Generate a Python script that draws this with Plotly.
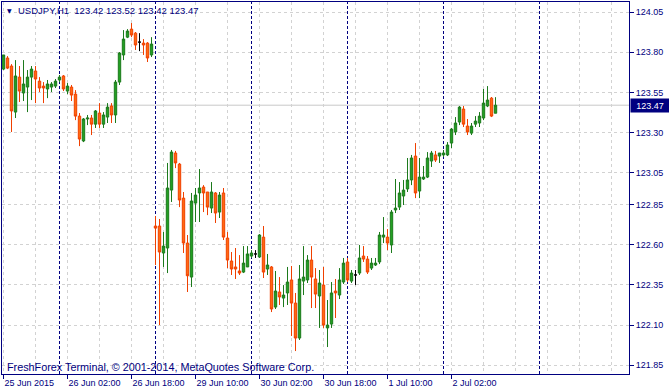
import plotly.graph_objects as go
import pandas as pd

symbol = "USDJPY,H1"

open_ = [123.695, 123.764, 123.714, 123.427, 123.645, 123.546, 123.583, 123.645, 123.683, 123.620,
         123.589, 123.571, 123.583, 123.589, 123.627, 123.652, 123.558, 123.583, 123.539, 123.402,
         123.247, 123.384, 123.390, 123.352, 123.421, 123.352, 123.396, 123.465, 123.409, 123.614,
         123.783, 123.894, 123.944, 123.919, 123.863, 123.857, 123.857, 123.783, 122.717, 122.717,
         122.549, 122.580, 122.941, 123.172, 123.103, 122.891, 122.611, 122.399, 122.860, 122.923,
         122.960, 122.929, 122.829, 122.923, 122.804, 122.923, 122.642, 122.499, 122.462, 122.437,
         122.430, 122.462, 122.530, 122.543, 122.524, 122.648, 122.449, 122.462, 122.212, 122.306,
         122.268, 122.300, 122.381, 122.237, 122.019, 122.374, 122.381, 122.505, 122.387, 122.281,
         122.349, 122.082, 122.106, 122.312, 122.287, 122.368, 122.493, 122.374, 122.412, 122.424,
         122.530, 122.511, 122.455, 122.474, 122.493, 122.648, 122.648, 122.599, 122.817, 122.835,
         122.904, 122.948, 123.004, 123.153, 122.935, 123.010, 123.022, 123.122, 123.160, 123.153,
         123.160, 123.160, 123.234, 123.303, 123.365, 123.446, 123.340, 123.296, 123.352, 123.359,
         123.390, 123.465, 123.514, 123.420]

high = [123.783, 123.776, 123.726, 123.751, 123.714, 123.751, 123.689, 123.714, 123.714, 123.645,
        123.614, 123.627, 123.614, 123.633, 123.658, 123.658, 123.608, 123.596, 123.564, 123.421,
        123.390, 123.409, 123.409, 123.440, 123.483, 123.427, 123.483, 123.483, 123.627, 123.801,
        123.938, 123.944, 123.982, 123.926, 123.919, 123.882, 123.863, 123.894, 122.779, 122.761,
        122.680, 123.110, 123.191, 123.185, 123.110, 122.929, 122.661, 122.923, 122.954, 123.072,
        122.972, 122.929, 122.991, 122.929, 122.929, 122.954, 122.680, 122.555, 122.580, 122.536,
        122.592, 122.592, 122.567, 122.567, 122.667, 122.717, 122.543, 122.468, 122.437, 122.399,
        122.349, 122.462, 122.468, 122.300, 122.474, 122.592, 122.536, 122.592, 122.455, 122.443,
        122.462, 122.256, 122.368, 122.387, 122.455, 122.518, 122.518, 122.443, 122.443, 122.599,
        122.592, 122.530, 122.518, 122.518, 122.680, 122.773, 122.698, 122.817, 123.010, 122.991,
        123.004, 123.141, 123.160, 123.234, 123.141, 123.091, 123.178, 123.185, 123.185, 123.172,
        123.191, 123.240, 123.328, 123.396, 123.465, 123.465, 123.384, 123.359, 123.402, 123.427,
        123.571, 123.589, 123.521, 123.520]

low = [123.689, 123.695, 123.303, 123.390, 123.490, 123.496, 123.427, 123.502, 123.483, 123.552,
       123.483, 123.514, 123.552, 123.577, 123.614, 123.558, 123.539, 123.496, 123.377, 123.215,
       123.240, 123.346, 123.284, 123.328, 123.328, 123.328, 123.359, 123.359, 123.359, 123.596,
       123.751, 123.888, 123.894, 123.814, 123.807, 123.783, 123.739, 123.770, 122.474, 122.100,
       122.462, 122.424, 122.867, 123.078, 122.835, 122.549, 122.306, 122.337, 122.742, 122.742,
       122.804, 122.785, 122.798, 122.736, 122.767, 122.630, 122.455, 122.412, 122.387, 122.412,
       122.424, 122.462, 122.518, 122.518, 122.518, 122.393, 122.412, 122.181, 122.200, 122.225,
       122.212, 122.225, 122.032, 121.938, 122.007, 122.287, 122.362, 122.206, 122.206, 122.082,
       122.082, 121.963, 122.082, 122.144, 122.262, 122.356, 122.368, 122.362, 122.349, 122.412,
       122.493, 122.418, 122.443, 122.468, 122.480, 122.611, 122.567, 122.549, 122.798, 122.817,
       122.848, 122.929, 122.972, 122.891, 122.891, 123.004, 123.016, 123.085, 123.116, 123.110,
       123.147, 123.153, 123.203, 123.284, 123.346, 123.334, 123.284, 123.284, 123.334, 123.334,
       123.377, 123.458, 123.396, 123.420]

close = [123.783, 123.701, 123.434, 123.652, 123.558, 123.602, 123.645, 123.695, 123.633, 123.577,
         123.577, 123.602, 123.602, 123.620, 123.645, 123.571, 123.589, 123.533, 123.402, 123.259,
         123.384, 123.390, 123.352, 123.434, 123.352, 123.409, 123.458, 123.409, 123.614, 123.795,
         123.882, 123.932, 123.907, 123.845, 123.863, 123.845, 123.764, 123.851, 122.704, 122.555,
         122.592, 122.954, 123.178, 123.110, 122.879, 122.611, 122.407, 122.873, 122.910, 122.954,
         122.923, 122.835, 122.929, 122.798, 122.910, 122.648, 122.505, 122.449, 122.449, 122.424,
         122.486, 122.543, 122.549, 122.543, 122.661, 122.430, 122.474, 122.200, 122.312, 122.275,
         122.287, 122.368, 122.237, 122.019, 122.387, 122.399, 122.505, 122.399, 122.293, 122.362,
         122.100, 122.100, 122.300, 122.300, 122.381, 122.486, 122.381, 122.424, 122.412, 122.518,
         122.511, 122.430, 122.486, 122.486, 122.661, 122.661, 122.611, 122.804, 122.829, 122.923,
         122.941, 123.004, 123.141, 122.923, 123.022, 123.022, 123.141, 123.172, 123.128, 123.172,
         123.172, 123.222, 123.321, 123.359, 123.458, 123.352, 123.303, 123.340, 123.371, 123.402,
         123.483, 123.502, 123.402, 123.470]

price_ticks = [124.05, 123.80, 123.55, 123.30, 123.05, 122.85, 122.60, 122.35, 122.10, 121.85]
time_labels = ["25 Jun 2015", "26 Jun 02:00", "26 Jun 18:00", "29 Jun 10:00",
               "30 Jun 02:00", "30 Jun 18:00", "1 Jul 10:00", "2 Jul 02:00"]
label_times = ["2015-06-25 10:00", "2015-06-26 02:00", "2015-06-26 18:00", "2015-06-29 10:00",
               "2015-06-30 02:00", "2015-06-30 18:00", "2015-07-01 10:00", "2015-07-02 02:00"]
y_range = [121.795, 124.113]

# hourly bar times (trading days only), extended into the empty future space of the chart
times = [t for t in pd.date_range("2015-06-25 10:00", "2015-07-03 22:00", freq="h") if t.dayofweek < 5]
n = len(close)
xs = list(range(n))
tick_pos = [times.index(pd.Timestamp(t)) for t in label_times]
separators = [i for i, t in enumerate(times) if t.hour == 0]
grid_minor = [i for i in range(8, len(times), 8) if i not in tick_pos]

NAVY = "#000080"
GRID = "#D2D2D2"
FONT = "Liberation Sans, Arial, sans-serif"

normal = [i for i in xs if open_[i] != close[i]]
doji = [i for i in xs if open_[i] == close[i]]

fig = go.Figure()
fig.add_trace(go.Candlestick(
    x=normal,
    open=[open_[i] for i in normal], high=[high[i] for i in normal],
    low=[low[i] for i in normal], close=[close[i] for i in normal],
    increasing=dict(line=dict(color="#1C7A1C", width=1), fillcolor="#22A022"),
    decreasing=dict(line=dict(color="#F04000", width=1), fillcolor="#FF6A10"),
    whiskerwidth=0, showlegend=False, hoverinfo="skip"))
fig.add_trace(go.Candlestick(
    x=doji,
    open=[open_[i] for i in doji], high=[high[i] for i in doji],
    low=[low[i] for i in doji], close=[close[i] for i in doji],
    increasing=dict(line=dict(color="#000000", width=1), fillcolor="#000000"),
    decreasing=dict(line=dict(color="#000000", width=1), fillcolor="#000000"),
    whiskerwidth=0, showlegend=False, hoverinfo="skip"))

# period separators (day boundaries)
for s in separators:
    fig.add_shape(type="line", xref="x", yref="paper", x0=s, x1=s, y0=0, y1=1,
                  line=dict(color=NAVY, width=1, dash="3px,2px"), layer="below")

# current bid line
fig.add_shape(type="line", xref="paper", yref="y", x0=0, x1=1, y0=close[-1], y1=close[-1],
              line=dict(color="#C8C8C8", width=1), layer="below")

fig.update_layout(
    width=669, height=392,
    margin=dict(l=2, r=40, t=2, b=18),
    paper_bgcolor="white", plot_bgcolor="white",
    boxgap=0.25, boxgroupgap=0.2,
    font=dict(family=FONT, size=9, color=NAVY),
    showlegend=False,
    xaxis=dict(
        range=[-0.375, 156.375], rangeslider=dict(visible=False),
        tickmode="array", tickvals=tick_pos, ticktext=time_labels,
        ticks="outside", ticklen=4, tickcolor=NAVY, ticklabelposition="outside right",
        tickfont=dict(family=FONT, size=9, color=NAVY),
        showgrid=True, gridcolor=GRID, griddash="3px,3px", gridwidth=1,
        minor=dict(tickmode="array", tickvals=grid_minor, showgrid=True,
                   gridcolor=GRID, griddash="3px,3px", ticks=""),
        showline=True, linecolor=NAVY, linewidth=1, mirror=True, zeroline=False,
        fixedrange=True),
    yaxis=dict(
        range=y_range, side="right",
        tickmode="array", tickvals=price_ticks, ticktext=[f"{v:.2f}" for v in price_ticks],
        ticks="outside", ticklen=4, tickcolor=NAVY,
        tickfont=dict(family=FONT, size=9, color=NAVY),
        showgrid=True, gridcolor=GRID, griddash="3px,3px", gridwidth=1,
        showline=True, linecolor=NAVY, linewidth=1, mirror=True, zeroline=False,
        fixedrange=True),
)

nb = "\u00a0"
header = f"{symbol}{nb}{nb}{open_[-1]:.2f} {high[-1]:.2f} {low[-1]:.2f} {close[-1]:.2f}"
fig.add_annotation(xref="paper", yref="paper", x=(16 - 2) / 627, y=(374 - 11) / 372,
                   xanchor="left", yanchor="middle", showarrow=False, text=header,
                   font=dict(family=FONT, size=9.5, color=NAVY))
fig.add_annotation(xref="paper", yref="paper", x=(5 - 2) / 627, y=(374 - 11) / 372,
                   xanchor="left", yanchor="middle", showarrow=False, text="▼",
                   font=dict(family="DejaVu Sans", size=6, color=NAVY))
fig.add_annotation(xref="paper", yref="paper", x=(5 - 2) / 627, y=(374 - 367) / 372,
                   xanchor="left", yanchor="middle", showarrow=False,
                   text="FreshForex Terminal, © 2001-2014, MetaQuotes Software Corp.",
                   font=dict(family=FONT, size=10.8, color=NAVY))
fig.add_annotation(xref="paper", yref="y", x=1, y=close[-1], xanchor="left", yanchor="middle",
                   xshift=1, showarrow=False, text=f"{close[-1]:.2f}",
                   bgcolor=NAVY, borderpad=1, width=36, height=11,
                   font=dict(family=FONT, size=9, color="white"))

fig.write_html("out.html")
